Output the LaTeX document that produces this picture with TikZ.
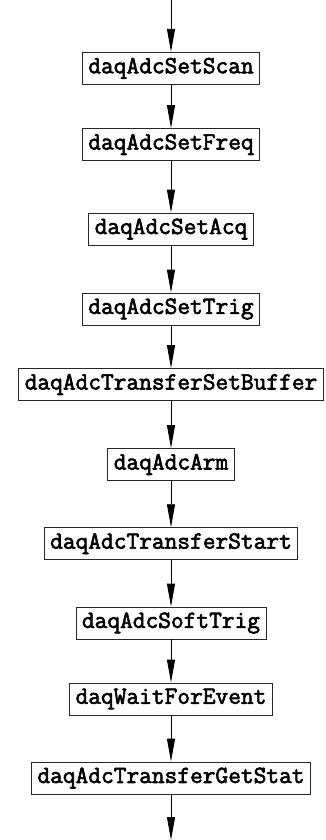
\documentclass[tikz,border=0pt]{standalone}
\usepackage{fontspec}
\newfontfamily\courfont{Latin Modern Mono}[FakeBold=2.5]
\usetikzlibrary{arrows.meta}
\begin{document}
\begin{tikzpicture}[x=1pt,y=-1pt,
  fn/.style={draw=black!85, line width=0.9pt, minimum height=32pt, inner xsep=6pt, inner ysep=0pt,
    font=\courfont\fontsize{24.7}{26}\selectfont, anchor=center},
  flow/.style={line width=0.9pt, -{Triangle[length=23pt,width=8pt]}}]
\useasboundingbox (0,0) rectangle (326,840);
\coordinate (top) at (171,0);
\coordinate (bot) at (171,840);
\node[fn] (n1) at (171,68.3) {daqAdcSetScan};
\node[fn] (n2) at (171,144.5) {daqAdcSetFreq};
\node[fn] (n3) at (171,229) {daqAdcSetAcq};
\node[fn] (n4) at (171,309) {daqAdcSetTrig};
\node[fn] (n5) at (171,384.5) {daqAdcTransferSetBuffer};
\node[fn] (n6) at (171,464.5) {daqAdcArm};
\node[fn] (n7) at (171,543.7) {daqAdcTransferStart};
\node[fn] (n8) at (171,623) {daqAdcSoftTrig};
\node[fn] (n9) at (171,699) {daqWaitForEvent};
\node[fn] (n10) at (171,778) {daqAdcTransferGetStat};
\draw[flow] (top) -- (n1.north);
\draw[flow] (n1) -- (n2);
\draw[flow] (n2) -- (n3);
\draw[flow] (n3) -- (n4);
\draw[flow] (n4) -- (n5);
\draw[flow] (n5) -- (n6);
\draw[flow] (n6) -- (n7);
\draw[flow] (n7) -- (n8);
\draw[flow] (n8) -- (n9);
\draw[flow] (n9) -- (n10);
\draw[flow] (n10.south) -- (bot);
\end{tikzpicture}
\end{document}
